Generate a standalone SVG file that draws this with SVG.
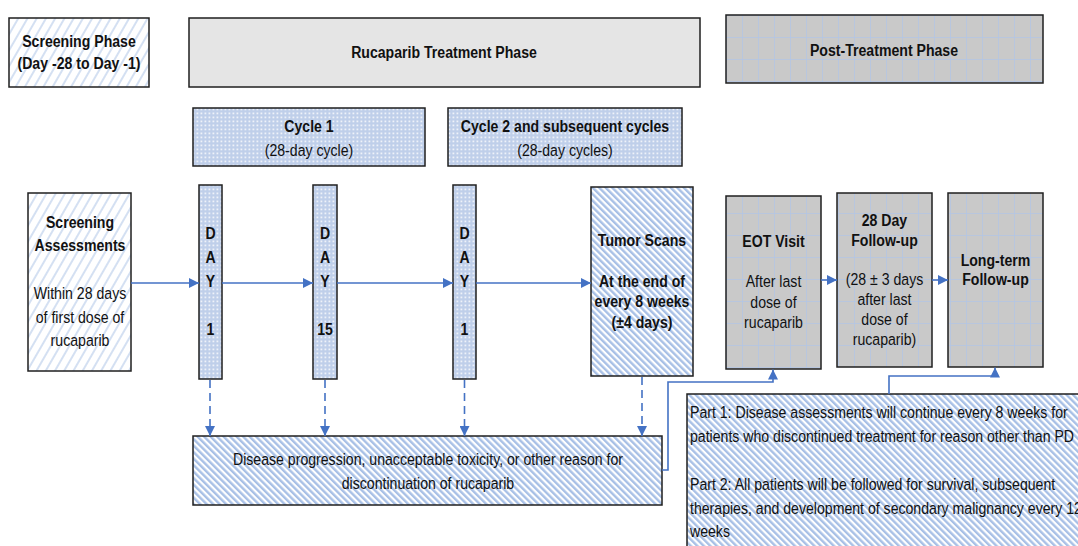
<svg xmlns="http://www.w3.org/2000/svg" width="1078" height="546" viewBox="0 0 1078 546">
  <style>
    .box { stroke: #1f1f1f; stroke-width: 1.5; }
    .t { font-family: "Liberation Sans", Arial, sans-serif; font-size: 17px; fill: #111; text-anchor: middle; }
    .l { text-anchor: start; }
    .b { font-weight: bold; }
    .conn { stroke: #4472c4; stroke-width: 1.6; fill: none; }
    .dash { stroke-dasharray: 8 5; }
  </style>
  <defs>
    <!-- sparse thin diagonal hatching -->
    <pattern id="hatchSparse" patternUnits="userSpaceOnUse" width="8" height="8" patternTransform="rotate(30)">
      <rect width="8" height="8" fill="#ffffff"/>
      <line x1="1" y1="0" x2="1" y2="8" stroke="#a9c1e6" stroke-width="1"/>
    </pattern>
    <!-- dense wide diagonal stripes -->
    <pattern id="hatchDense" patternUnits="userSpaceOnUse" width="4.6" height="8" patternTransform="rotate(-45)">
      <rect width="4.6" height="8" fill="#ffffff"/>
      <rect x="0" y="0" width="2.4" height="8" fill="#a8c0e6"/>
    </pattern>
    <!-- light blue with small white dots -->
    <pattern id="dots" patternUnits="userSpaceOnUse" width="4" height="4">
      <rect width="4" height="4" fill="#bfcfea"/>
      <rect x="0.5" y="0.5" width="1.8" height="1.8" fill="#eef2f9"/>
    </pattern>
    <!-- grey with light blue grid -->
    <pattern id="grid" patternUnits="userSpaceOnUse" width="16" height="22" x="726" y="15">
      <rect width="16" height="22" fill="#c9c9c9"/>
      <line x1="0" y1="0" x2="0" y2="22" stroke="#b2c6e6" stroke-width="1.5"/>
      <line x1="0" y1="0" x2="16" y2="0" stroke="#b2c6e6" stroke-width="1.5"/>
    </pattern>
    <marker id="arrow" viewBox="0 0 10 10" refX="10" refY="5" markerWidth="10" markerHeight="10" markerUnits="userSpaceOnUse" orient="auto">
      <path d="M0,0 L10,5 L0,10 z" fill="#4472c4"/>
    </marker>
  </defs>

  <rect width="1078" height="546" fill="#ffffff"/>

  <!-- labels use a condensed face: horizontal scale 0.83, x values are pre-divided -->

  <!-- phase headers -->
  <g id="screening-phase">
    <rect class="box" x="9" y="18" width="140" height="69" fill="url(#hatchSparse)"/>
    <g transform="scale(0.83 1)">
      <text class="t b" x="95.18" y="47">Screening Phase</text>
      <text class="t b" x="95.18" y="69">(Day -28 to Day -1)</text>
    </g>
  </g>
  <g id="treatment-phase">
    <rect class="box" x="189" y="18" width="511" height="69" fill="#e5e5e5"/>
    <g transform="scale(0.83 1)">
      <text class="t b" x="534.94" y="58">Rucaparib Treatment Phase</text>
    </g>
  </g>
  <g id="post-treatment-phase">
    <rect class="box" x="726" y="15" width="317" height="68" fill="url(#grid)"/>
    <g transform="scale(0.83 1)">
      <text class="t b" x="1065.06" y="56">Post-Treatment Phase</text>
    </g>
  </g>

  <!-- cycle headers -->
  <g id="cycle-1">
    <rect class="box" x="193" y="108" width="232" height="58" fill="url(#dots)"/>
    <g transform="scale(0.83 1)">
      <text class="t b" x="372.29" y="132">Cycle 1</text>
      <text class="t" x="372.29" y="156">(28-day cycle)</text>
    </g>
  </g>
  <g id="cycle-2">
    <rect class="box" x="448" y="108" width="234" height="58" fill="url(#dots)"/>
    <g transform="scale(0.83 1)">
      <text class="t b" x="680.72" y="132">Cycle 2 and subsequent cycles</text>
      <text class="t" x="680.72" y="156">(28-day cycles)</text>
    </g>
  </g>

  <!-- visits -->
  <g id="screening-assessments">
    <rect class="box" x="28" y="193" width="103" height="178" fill="url(#hatchSparse)"/>
    <g transform="scale(0.83 1)">
      <text class="t b" x="96.39" y="228">Screening</text>
      <text class="t b" x="96.39" y="251">Assessments</text>
      <text class="t" x="96.39" y="299">Within 28 days</text>
      <text class="t" x="96.39" y="323">of first dose of</text>
      <text class="t" x="96.39" y="346">rucaparib</text>
    </g>
  </g>
  <g id="c1-day1">
    <rect class="box" x="199" y="185" width="23" height="194" fill="url(#dots)"/>
    <g transform="scale(0.83 1)">
      <text class="t b" x="253.61" y="239">D</text>
      <text class="t b" x="253.61" y="263">A</text>
      <text class="t b" x="253.61" y="287">Y</text>
      <text class="t b" x="253.61" y="335">1</text>
    </g>
  </g>
  <g id="c1-day15">
    <rect class="box" x="313" y="185" width="24" height="194" fill="url(#dots)"/>
    <g transform="scale(0.83 1)">
      <text class="t b" x="391.57" y="239">D</text>
      <text class="t b" x="391.57" y="263">A</text>
      <text class="t b" x="391.57" y="287">Y</text>
      <text class="t b" x="391.57" y="335">15</text>
    </g>
  </g>
  <g id="c2-day1">
    <rect class="box" x="453" y="185" width="23" height="194" fill="url(#dots)"/>
    <g transform="scale(0.83 1)">
      <text class="t b" x="559.64" y="239">D</text>
      <text class="t b" x="559.64" y="263">A</text>
      <text class="t b" x="559.64" y="287">Y</text>
      <text class="t b" x="559.64" y="335">1</text>
    </g>
  </g>
  <g id="tumor-scans">
    <rect class="box" x="591" y="187" width="102" height="189" fill="url(#hatchDense)"/>
    <g transform="scale(0.83 1)">
      <text class="t b" x="773.49" y="246">Tumor Scans</text>
      <text class="t b" x="773.49" y="287">At the end of</text>
      <text class="t b" x="773.49" y="307">every 8 weeks</text>
      <text class="t b" x="773.49" y="328">(±4 days)</text>
    </g>
  </g>
  <g id="eot-visit">
    <rect class="box" x="726" y="196" width="95" height="173" fill="url(#grid)"/>
    <g transform="scale(0.83 1)">
      <text class="t b" x="931.93" y="247">EOT Visit</text>
      <text class="t" x="931.93" y="287">After last</text>
      <text class="t" x="931.93" y="308">dose of</text>
      <text class="t" x="931.93" y="328">rucaparib</text>
    </g>
  </g>
  <g id="follow-up-28">
    <rect class="box" x="837" y="193" width="95" height="174" fill="url(#grid)"/>
    <g transform="scale(0.83 1)">
      <text class="t b" x="1065.66" y="226">28 Day</text>
      <text class="t b" x="1065.66" y="246">Follow-up</text>
      <text class="t" x="1065.66" y="285">(28 ± 3 days</text>
      <text class="t" x="1065.66" y="305">after last</text>
      <text class="t" x="1065.66" y="325">dose of</text>
      <text class="t" x="1065.66" y="345">rucaparib)</text>
    </g>
  </g>
  <g id="long-term-follow-up">
    <rect class="box" x="948" y="193" width="95" height="174" fill="url(#grid)"/>
    <g transform="scale(0.83 1)">
      <text class="t b" x="1199.40" y="266">Long-term</text>
      <text class="t b" x="1199.40" y="285">Follow-up</text>
    </g>
  </g>

  <!-- outcomes -->
  <g id="discontinuation">
    <rect class="box" x="193" y="436" width="469" height="69" fill="url(#hatchDense)"/>
    <g transform="scale(0.83 1)">
      <text class="t" x="515.66" y="465">Disease progression, unacceptable toxicity, or other reason for</text>
      <text class="t" x="515.66" y="489">discontinuation of rucaparib</text>
    </g>
  </g>
  <g id="follow-up-notes">
    <rect class="box" x="687" y="394" width="420" height="170" fill="url(#hatchDense)"/>
    <g transform="scale(0.83 1)">
      <text class="t l" x="831.33" y="418">Part 1: Disease assessments will continue every 8 weeks for</text>
      <text class="t l" x="831.33" y="442">patients who discontinued treatment for reason other than PD</text>
      <text class="t l" x="831.33" y="490">Part 2: All patients will be followed for survival, subsequent</text>
      <text class="t l" x="831.33" y="514">therapies, and development of secondary malignancy every 12</text>
      <text class="t l" x="831.33" y="537">weeks</text>
    </g>
  </g>

  <!-- connectors -->
  <g id="connectors">
    <path class="conn" d="M131,283 H199" marker-end="url(#arrow)"/>
    <path class="conn" d="M222,283 H313" marker-end="url(#arrow)"/>
    <path class="conn" d="M337,283 H453" marker-end="url(#arrow)"/>
    <path class="conn" d="M476,283 H591" marker-end="url(#arrow)"/>
    <path class="conn" d="M821,280 H837" marker-end="url(#arrow)"/>
    <path class="conn" d="M932,280 H948" marker-end="url(#arrow)"/>
    <path class="conn dash" d="M210,380 V436" marker-end="url(#arrow)"/>
    <path class="conn dash" d="M325,380 V436" marker-end="url(#arrow)"/>
    <path class="conn dash" d="M464.5,380 V436" marker-end="url(#arrow)"/>
    <path class="conn dash" d="M642,377 V436" marker-end="url(#arrow)"/>
    <path class="conn" d="M662,470 H668 V382 H773 V369.5" marker-end="url(#arrow)"/>
    <path class="conn" d="M889,394 V376 H995 V367.5" marker-end="url(#arrow)"/>
  </g>
</svg>
